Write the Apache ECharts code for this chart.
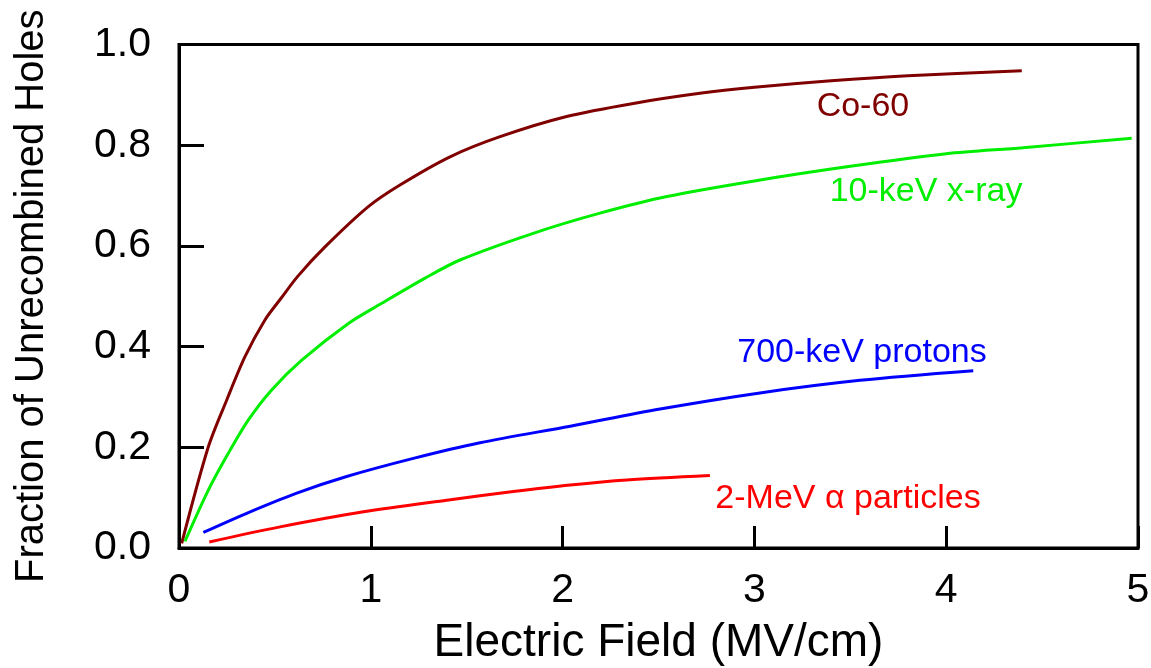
<!DOCTYPE html>
<html>
<head>
<meta charset="utf-8">
<script src="https://cdn.jsdelivr.net/npm/echarts@6/dist/echarts.min.js"></script>
<style>
html,body{margin:0;padding:0;background:#fff;}
#chart{width:1151px;height:668px;}
</style>
</head>
<body>
<div id="chart"></div>
<script>
// ---- data ----
var co60X = [0.014, 0.153, 0.249, 0.344, 0.448, 0.53, 0.62, 0.761, 0.987, 1.152, 1.413, 1.674, 2.021, 2.369, 2.716, 3.0, 3.4, 3.8, 4.394];
var co60Y = [0.009, 0.201, 0.294, 0.380, 0.453, 0.495, 0.540, 0.598, 0.678, 0.721, 0.777, 0.817, 0.857, 0.883, 0.903, 0.915, 0.928, 0.938, 0.948];

var xrayX = [0.031, 0.153, 0.257, 0.361, 0.483, 0.64, 0.883, 1.057, 1.283, 1.465, 1.847, 2.195, 2.543, 3.0, 3.5, 4.0, 4.4, 4.967];
var xrayY = [0.013, 0.115, 0.188, 0.254, 0.314, 0.373, 0.446, 0.486, 0.536, 0.572, 0.625, 0.665, 0.698, 0.729, 0.758, 0.783, 0.795, 0.814];

var protonX = [0.127, 0.353, 0.614, 0.874, 1.222, 1.569, 2.04, 2.508, 3.029, 3.551, 4.141];
var protonY = [0.031, 0.069, 0.109, 0.142, 0.178, 0.209, 0.242, 0.276, 0.308, 0.333, 0.352];

var alphaX = [0.158, 0.527, 0.961, 1.396, 1.743, 2.04, 2.334, 2.768];
var alphaY = [0.012, 0.042, 0.072, 0.095, 0.112, 0.125, 0.135, 0.144];

var seriesNames = ['Co-60', '10-keV x-ray', '700-keV protons', '2-MeV \u03b1 particles'];
var labelAt = [[3.566, 0.876], [3.895, 0.707], [3.561, 0.389], [3.488, 0.098]];
var xTicks = ['0', '1', '2', '3', '4', '5'];
var yTicks = ['0.0', '0.2', '0.4', '0.6', '0.8', '1.0'];
var xTitle = 'Electric Field (MV/cm)';
var yTitle = 'Fraction of Unrecombined Holes';

// ---- build ----
function pairs(xs, ys) { return xs.map(function (x, i) { return [x, ys[i]]; }); }
var colors = ['#800000', '#00ee00', '#0000ff', '#ff0000'];
var FONT = '"Liberation Sans", Arial, sans-serif';
var dataSets = [pairs(co60X, co60Y), pairs(xrayX, xrayY), pairs(protonX, protonY), pairs(alphaX, alphaY)];

var series = dataSets.map(function (d, i) {
  return {
    name: seriesNames[i],
    type: 'line',
    data: d,
    smooth: 0.3,
    showSymbol: false,
    lineStyle: { color: colors[i], width: 3, cap: 'butt' },
    itemStyle: { color: colors[i] },
    silent: true,
    markPoint: {
      symbol: 'circle',
      symbolSize: 0,
      silent: true,
      label: {
        show: true,
        position: 'inside',
        formatter: seriesNames[i],
        color: colors[i],
        fontFamily: FONT,
        fontSize: 34
      },
      data: [{ coord: labelAt[i] }]
    }
  };
});

var chart = echarts.init(document.getElementById('chart'), null, { renderer: 'canvas' });
chart.setOption({
  animation: false,
  backgroundColor: '#fff',
  grid: {
    left: 179, right: 13, top: 44.5, bottom: 120,
    outerBoundsMode: 'none', containLabel: false,
    show: true, borderColor: '#000', borderWidth: 3, backgroundColor: 'transparent'
  },
  xAxis: {
    type: 'value', min: 0, max: 5, interval: 1,
    name: xTitle, nameLocation: 'middle', nameGap: 72,
    nameTextStyle: { fontFamily: FONT, fontSize: 46, color: '#000' },
    axisLine: { show: true, onZero: false, lineStyle: { color: '#000', width: 3 } },
    axisTick: { show: true, inside: true, length: 22, lineStyle: { color: '#000', width: 3 } },
    axisLabel: {
      margin: 22, color: '#000', fontFamily: FONT, fontSize: 41,
      formatter: function (v) { return xTicks[Math.round(v)]; }
    },
    splitLine: { show: false }
  },
  yAxis: {
    type: 'value', min: 0, max: 1, interval: 0.2,
    name: yTitle, nameLocation: 'middle', nameGap: 127, nameRotate: 90,
    nameTextStyle: { fontFamily: FONT, fontSize: 40, color: '#000' },
    axisLine: { show: true, onZero: false, lineStyle: { color: '#000', width: 3 } },
    axisTick: { show: true, inside: true, length: 25, lineStyle: { color: '#000', width: 3 } },
    axisLabel: {
      margin: 28, color: '#000', fontFamily: FONT, fontSize: 41,
      formatter: function (v) { return yTicks[Math.round(v * 5)]; }
    },
    splitLine: { show: false }
  },
  series: series
});
</script>
</body>
</html>
